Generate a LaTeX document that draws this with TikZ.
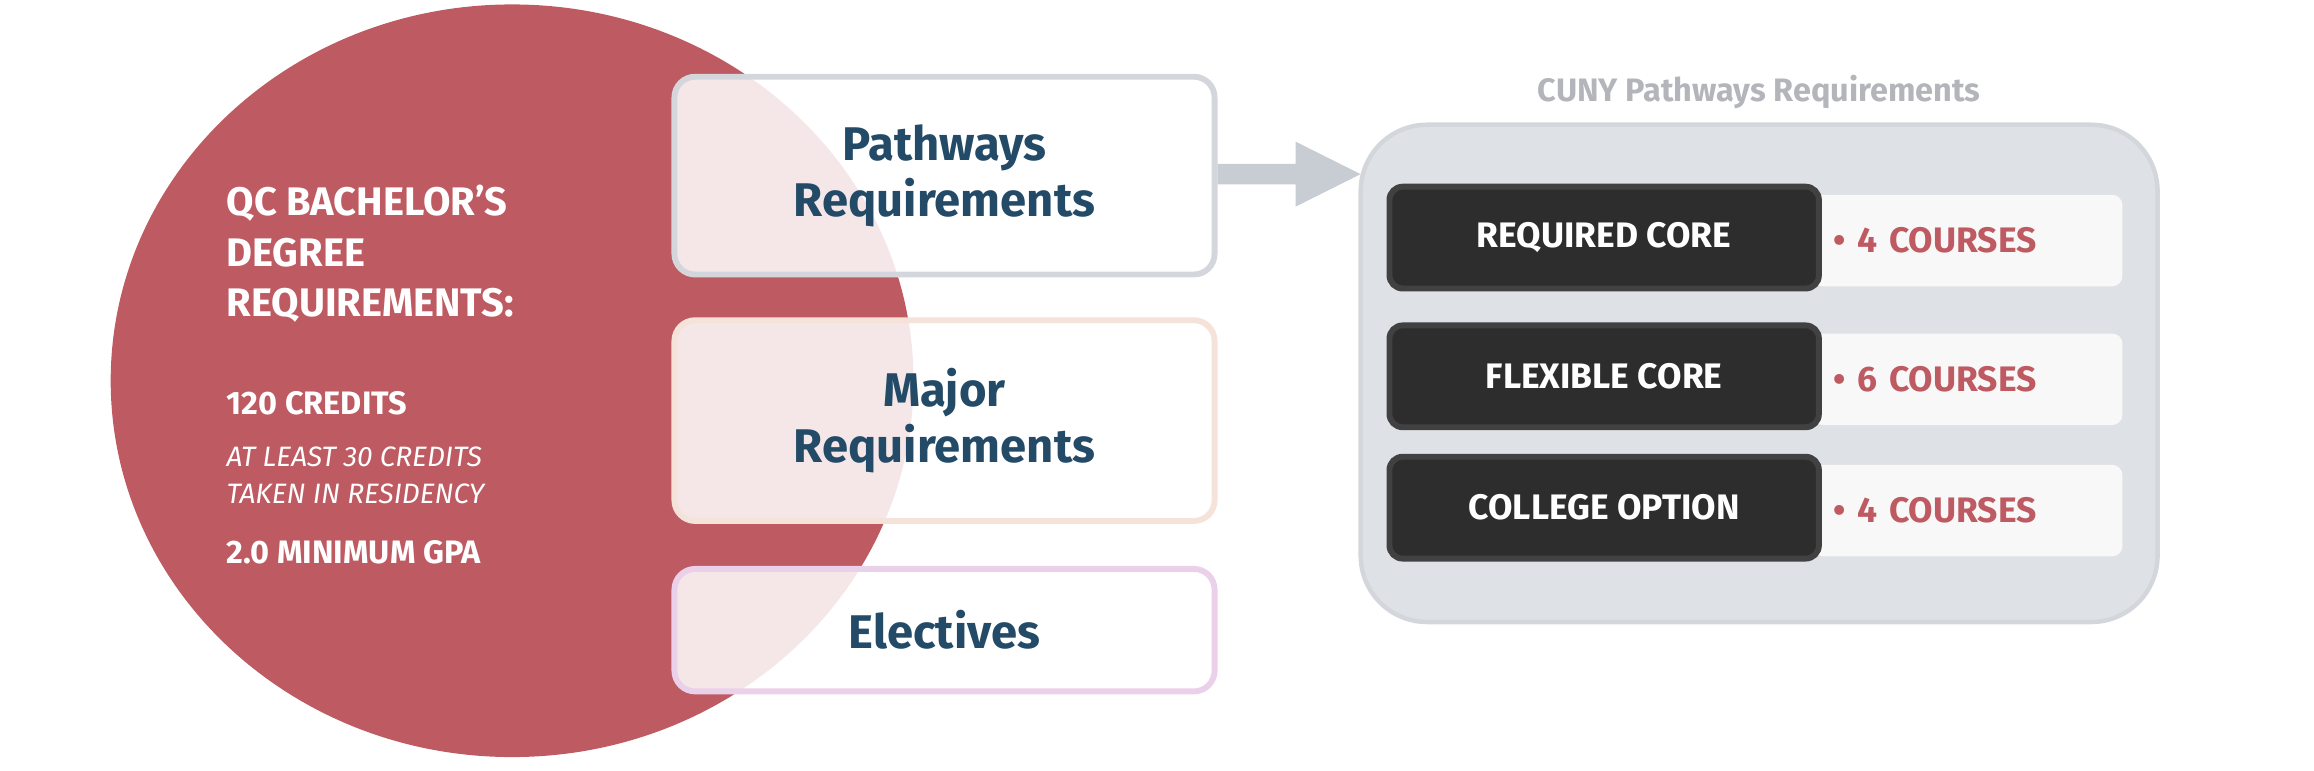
\documentclass[tikz,border=0pt]{standalone}
\usepackage{fontspec}
\setmainfont{Fira Sans}
\definecolor{qcred}{HTML}{BE5A61}
\definecolor{navy}{HTML}{234A66}
\definecolor{cgray}{HTML}{B3B5BA}
\definecolor{panel}{HTML}{DEE1E5}
\definecolor{panelb}{HTML}{D3D7DC}
\definecolor{peach}{HTML}{F5E2D8}
\definecolor{lav}{HTML}{EBD0EA}
\definecolor{dark}{HTML}{2D2D2D}
\definecolor{darkb}{HTML}{414141}
\definecolor{arrowc}{HTML}{C8CDD4}
\definecolor{lightf}{HTML}{F8F8F8}
\begin{document}
\begin{tikzpicture}[x=1pt,y=-1pt,
  req/.style={draw, line width=4pt, rounded corners=14pt, fill=white, fill opacity=0.85, text opacity=1,
    minimum width=366pt, align=center, text=navy, font=\fontsize{32}{38}\selectfont\bfseries},
  darkbox/.style={draw=darkb, line width=4pt, fill=dark, rounded corners=9pt, minimum width=291pt, minimum height=69pt,
    text=white, font=\fontsize{24}{28}\selectfont\bfseries},
  lightbox/.style={fill=lightf, rounded corners=7pt, minimum width=210pt, minimum height=62pt, anchor=west,
    text=qcred, font=\fontsize{24}{28}\selectfont\bfseries, align=left, inner xsep=14pt, text width=182pt},
  lt/.style={text=white, anchor=west, align=left}]
\useasboundingbox (0,0) rectangle (1568,522);
\fill[qcred] (347,258) ellipse [x radius=272, y radius=255];
\node[lt, font=\fontsize{27}{34}\selectfont\bfseries] (t1) at (150,172) {QC BACHELOR’S\\DEGREE\\REQUIREMENTS:};
\node[lt, font=\fontsize{22}{26}\selectfont\bfseries] (t2) at (150,273) {120 CREDITS};
\node[lt, font=\fontsize{19}{25}\selectfont\itshape] (t3) at (150,322) {AT LEAST 30 CREDITS\\TAKEN IN RESIDENCY};
\node[lt, font=\fontsize{22}{26}\selectfont\bfseries] (t4) at (150,374) {2.0 MINIMUM GPA};
\node[req, draw=panelb, minimum height=134pt] (pw) at (640,119) {Pathways\\Requirements};
\node[req, draw=peach, minimum height=136pt] (mj) at (640,285) {Major\\Requirements};
\node[req, draw=lav, minimum height=83pt] (el) at (640,427) {Electives};
\node[font=\fontsize{22}{26}\selectfont\bfseries, text=cgray] (ct) at (1192,62) {CUNY Pathways Requirements};
\node[draw=panelb, line width=3pt, fill=panel, rounded corners=45pt, minimum width=540pt, minimum height=337pt] (pn) at (1192,253) {};
\coordinate (ah) at (922,118);
\fill[arrowc] (pw.east|-0,111) -- (878,111) -- (878,96) -- (ah) -- (878,140) -- (878,125) -- (pw.east|-0,125) -- cycle;
\foreach \y/\a/\b [count=\i] in {161/REQUIRED CORE/4 COURSES, 255/FLEXIBLE CORE/6 COURSES, 344/COLLEGE OPTION/4 COURSES}{
  \node[lightbox] (l\i) at (1228,\y+2) {• \b};
  \node[darkbox] (d\i) at (1087,\y) {\a};
}
\end{tikzpicture}
\end{document}
